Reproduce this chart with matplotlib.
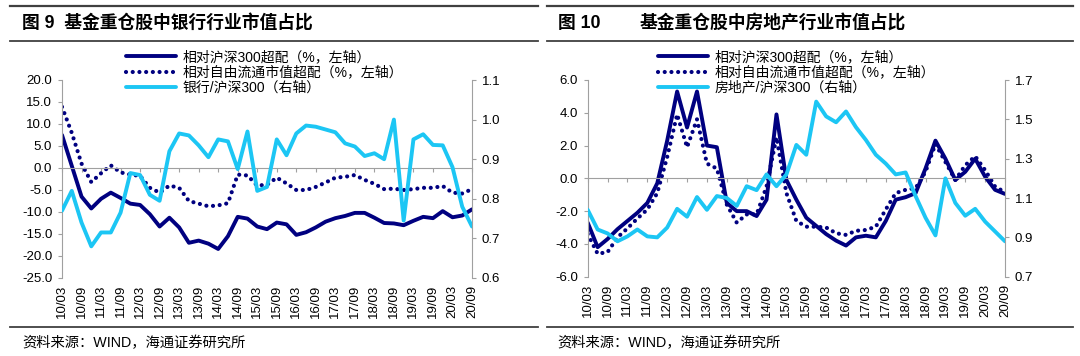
import numpy as np
import matplotlib
matplotlib.use("Agg")
import matplotlib.pyplot as plt
from matplotlib.lines import Line2D
from matplotlib.ticker import FormatStrFormatter

plt.rcParams['font.family'] = ['Liberation Sans', 'Noto Sans CJK SC', 'DejaVu Sans']

# quarterly points, 2010/03 .. 2020/09
quarters = [f"{y:02d}/{m:02d}" for y in range(10, 21) for m in (3, 6, 9, 12)][:43]
tick_labels = quarters[::2]

# Fig 9: banks
bank_hs300 = [7.5, 0.5, -6.5, -9.2, -7.0, -5.6, -6.8, -8.1, -8.4, -10.5,
              -13.3, -11.3, -13.5, -17.0, -16.5, -17.2, -18.4, -15.5, -11.1, -11.5,
              -13.3, -13.9, -12.4, -12.8, -15.2, -14.6, -13.5, -12.2, -11.4, -10.9,
              -10.2, -10.2, -11.3, -12.5, -12.6, -13.0, -12.0, -11.1, -11.4, -9.8,
              -11.2, -10.8, -9.4]
bank_free = [13.9, 8.0, 1.0, -3.2, -1.2, 0.6, -1.0, -1.5, -1.8, -4.5,
             -5.6, -4.0, -4.5, -7.5, -8.1, -8.7, -8.5, -8.0, -1.5, -1.7,
             -4.0, -3.8, -2.2, -3.5, -5.0, -5.0, -4.3, -3.3, -2.2, -2.0,
             -1.6, -2.7, -3.6, -4.8, -4.7, -5.0, -4.8, -4.5, -4.5, -4.1,
             -5.6, -5.8, -4.8]
bank_ratio = [0.77, 0.82, 0.74, 0.68, 0.715, 0.715, 0.765, 0.865, 0.86, 0.81,
              0.795, 0.92, 0.965, 0.96, 0.935, 0.905, 0.95, 0.945, 0.875, 0.97,
              0.82, 0.83, 0.95, 0.91, 0.965, 0.985, 0.982, 0.975, 0.968, 0.94,
              0.932, 0.908, 0.915, 0.90, 1.0, 0.745, 0.95, 0.963, 0.936, 0.935,
              0.88, 0.78, 0.73]

# Fig 10: real estate
re_hs300 = [-2.7, -4.2, -3.7, -3.1, -2.6, -2.1, -1.5, -0.3, 2.3, 5.3,
            3.1, 5.3, 2.0, 1.9, -1.5, -2.0, -2.0, -2.3, -1.3, 3.9,
            -0.1, -1.3, -2.4, -2.9, -3.4, -3.8, -4.1, -3.6, -3.5, -3.6,
            -2.6, -1.3, -1.15, -0.9, 0.6, 2.3, 1.2, -0.1, 0.4, 1.2,
            0.1, -0.7, -0.95]
re_free = [-3.4, -4.6, -4.5, -3.6, -3.05, -2.45, -1.9, -0.9, 1.3, 3.9,
           1.9, 3.6, 0.9, 0.6, -1.6, -2.7, -2.2, -2.2, -0.5, 2.5,
           -0.9, -2.6, -2.95, -2.95, -3.0, -3.35, -3.45, -3.2, -3.15, -2.95,
           -1.9, -0.9, -0.7, -0.6, 0.4, 2.1, 1.0, -0.1, 0.8, 1.35,
           0.5, -0.5, -0.85]
re_ratio = [1.04, 0.94, 0.92, 0.88, 0.905, 0.94, 0.905, 0.90, 0.95, 1.045,
            1.005, 1.105, 1.04, 1.11, 1.10, 1.06, 1.16, 1.14, 1.22, 1.16,
            1.22, 1.37, 1.32, 1.59, 1.515, 1.485, 1.54, 1.46, 1.395, 1.32,
            1.275, 1.22, 1.23, 1.11, 1.0, 0.91, 1.2, 1.075, 1.01, 1.045,
            0.98, 0.93, 0.88]

NAVY = '#000080'
SKY = '#1CC6F4'
GRAY = '#A0A0A0'
RULE = '#404040'

W, H = 1080, 356
fig = plt.figure(figsize=(W / 100, H / 100), dpi=100)


def fx(px):
    return px / W


def fy(py):
    return 1 - py / H


def panel(rect, s1, s2, s3, ylim, yticks, rlim, rticks, labels, leg_xy):
    ax = fig.add_axes(rect)
    x = np.arange(len(quarters))
    l1, = ax.plot(x, s1, color=NAVY, lw=2.8, solid_capstyle='round', solid_joinstyle='round')
    l2, = ax.plot(x, s2, color=NAVY, lw=3.0, ls=(0, (0.01, 1.6)), dash_capstyle='round')
    ax.set_xlim(0, len(quarters) - 1)
    ax.set_ylim(*ylim)
    ax.set_yticks(yticks)
    ax.yaxis.set_major_formatter(FormatStrFormatter('%.1f'))
    for s in ('top', 'right'):
        ax.spines[s].set_visible(False)
    ax.spines['left'].set_color(GRAY)
    ax.spines['bottom'].set_color(GRAY)
    ax.spines['bottom'].set_position(('data', 0))
    ax.set_xticks(x[::2])
    ax.tick_params(axis='x', length=3, color=GRAY, labelbottom=False)
    ax.tick_params(axis='y', length=3, color=GRAY, labelsize=9.5, pad=4)
    sec = ax.secondary_xaxis('bottom')
    sec.set_xticks(x[::2], tick_labels, rotation=90, fontsize=9.5)
    sec.tick_params(length=0, pad=5)
    sec.spines['bottom'].set_visible(False)

    ax2 = ax.twinx()
    l3, = ax2.plot(x, s3, color=SKY, lw=2.8, solid_capstyle='round', solid_joinstyle='round')
    ax2.set_ylim(*rlim)
    ax2.set_yticks(rticks)
    ax2.yaxis.set_major_formatter(FormatStrFormatter('%.1f'))
    for s in ('top', 'left', 'bottom'):
        ax2.spines[s].set_visible(False)
    ax2.spines['right'].set_color(GRAY)
    ax2.tick_params(axis='y', length=3, color=GRAY, labelsize=9.5, pad=4)

    ax2.legend([l1, l2, l3], labels, loc='upper left',
               bbox_to_anchor=(fx(leg_xy[0]), fy(leg_xy[1])), bbox_transform=fig.transFigure,
               frameon=False, fontsize=10, handlelength=3.6, handletextpad=0.5,
               labelspacing=0.1, borderpad=0, borderaxespad=0)
    return ax


panel([fx(62), fy(278), fx(410), 198 / H], bank_hs300, bank_free, bank_ratio,
      (-25, 20), np.arange(-25, 20.1, 5), (0.6, 1.1), np.arange(0.6, 1.11, 0.1),
      ['相对沪深300超配（%，左轴）', '相对自由流通市值超配（%，左轴）', '银行/沪深300（右轴）'],
      (126, 50))
panel([fx(587.7), fy(276.7), fx(417.3), 196.7 / H], re_hs300, re_free, re_ratio,
      (-6, 6), np.arange(-6, 6.1, 2), (0.7, 1.7), np.arange(0.7, 1.71, 0.2),
      ['相对沪深300超配（%，左轴）', '相对自由流通市值超配（%，左轴）', '房地产/沪深300（右轴）'],
      (658, 50))

# header / footer rules and texts
for x0, x1 in ((10, 538), (547, 1073)):
    for yy, lw in ((6, 1.6), (41, 1.3), (327, 1.3)):
        fig.add_artist(Line2D([fx(x0), fx(x1)], [fy(yy), fy(yy)], color=RULE, lw=lw))

fig.text(fx(22), fy(24), '图 9  基金重仓股中银行行业市值占比', fontsize=12.8,
         fontweight='bold', va='center')
fig.text(fx(558), fy(24), '图 10', fontsize=12.8, fontweight='bold', va='center')
fig.text(fx(640), fy(24), '基金重仓股中房地产行业市值占比', fontsize=12.8,
         fontweight='bold', va='center')
fig.text(fx(22), fy(343), '资料来源：WIND，海通证券研究所', fontsize=10.3, va='center')
fig.text(fx(557), fy(343), '资料来源：WIND，海通证券研究所', fontsize=10.3, va='center')

fig.savefig('out.png', dpi=100)
